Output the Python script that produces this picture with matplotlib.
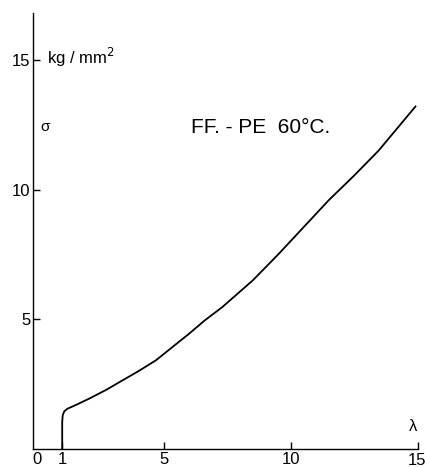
import matplotlib.pyplot as plt

# stress-strain curve
lam = [1.0, 1.0, 1.02, 1.08, 1.2, 1.5, 2.08, 2.73, 3.38, 4.0, 4.69, 5.3, 6.0, 6.6,
       7.3, 8.5, 9.5, 10.5, 11.5, 12.5, 13.45, 14.9]
sigma = [0.0, 1.05, 1.3, 1.45, 1.55, 1.68, 1.95, 2.28, 2.65, 3.0, 3.42, 3.9, 4.45, 4.95,
         5.47, 6.5, 7.5, 8.55, 9.6, 10.55, 11.5, 13.2]

x_ticks = [0, 1, 5, 10, 15]
y_ticks = [5, 10, 15]

plt.rcParams['font.family'] = ['Liberation Sans', 'DejaVu Sans']

fig = plt.figure(figsize=(4.25, 4.67), dpi=100)
ax = fig.add_axes([0.0776, 0.0385, 0.9059, 0.9335])

ax.plot(lam, sigma, color='black', linewidth=1.3)

ax.set_xlim(-0.15, 15.0)
ax.set_ylim(0, 16.8)
ax.spines['top'].set_visible(False)
ax.spines['right'].set_visible(False)
for s in ['left', 'bottom']:
    ax.spines[s].set_linewidth(1.0)

ax.set_xticks(x_ticks)
# last label is placed by hand so it stays inside the picture
ax.set_xticklabels([str(v) for v in x_ticks[:-1]] + [''])
ax.set_yticks(y_ticks)
ax.set_yticklabels([str(v) for v in y_ticks])
ax.tick_params(axis='x', direction='in', length=5, width=1, pad=2, labelsize=12)
ax.tick_params(axis='y', direction='in', length=5, width=1, pad=2, labelsize=12)
ax.xaxis.get_major_ticks()[0].tick1line.set_visible(False)

ax.annotate('15', xy=(15, 0), xytext=(-1, -3), textcoords='offset points',
            fontsize=12, ha='center', va='top', annotation_clip=False)

ax.text(0.4, 15.1, 'kg / mm$^2$', fontsize=12, va='center', ha='left')
ax.text(0.15, 12.4, 'σ', fontsize=11, va='center', ha='left')
ax.text(6.05, 12.4, 'FF. - PE  60°C.', fontsize=15, va='center', ha='left')
ax.text(14.8, 0.85, 'λ', fontsize=12, va='center', ha='center')

fig.savefig('out.png', dpi=100)
